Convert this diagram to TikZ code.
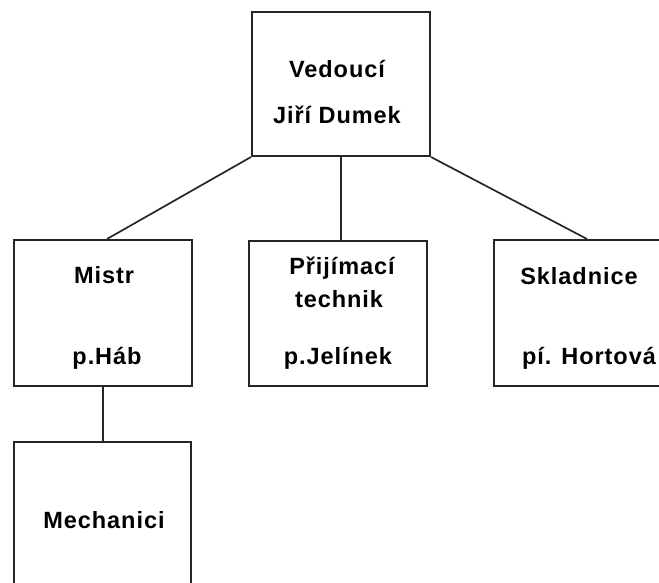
\documentclass[tikz,border=0pt]{standalone}
\usepackage{fontspec}
\setmainfont{Liberation Sans}[LetterSpace=4]
\begin{document}
\begin{tikzpicture}[x=1pt,y=-1pt,
  box/.style={draw=black!85,line width=2pt,rectangle,inner sep=0pt},
  lbl/.style={anchor=base,inner sep=0pt,font=\fontsize{23.5}{26}\selectfont\bfseries},
  link/.style={draw=black!85,line width=1.7pt}]
\clip (0,0) rectangle (659,582);
\useasboundingbox (0,0) rectangle (659,582);
% boxes
\node[box,minimum width=178pt,minimum height=144pt] (boss) at (341,84) {};
\node[box,minimum width=178pt,minimum height=146pt] (mistr) at (103,313) {};
\node[box,minimum width=178pt,minimum height=145pt] (prij) at (338,313.5) {};
\node[box,minimum width=178pt,minimum height=146pt] (sklad) at (583,313) {};
\node[box,minimum width=177pt,minimum height=200pt] (mech) at (102.5,542) {};
% texts
\node[lbl] (t1) at (337,77) {Vedoucí};
\node[lbl] (t2) at (337,123) {Jiří Dumek};
\node[lbl] (t3) at (104,283) {Mistr};
\node[lbl] (t4) at (107,364) {p.Háb};
\node[lbl] (t5) at (342,274) {Přijímací};
\node[lbl] (t6) at (339,307) {technik};
\node[lbl] (t7) at (338,364) {p.Jelínek};
\node[lbl] (t8) at (579,284) {Skladnice};
\node[lbl] (t9) at (589,364) {pí. Hortová};
\node[lbl] (t10) at (104,528) {Mechanici};
% connectors
\draw[link] (boss.south west) -- ([xshift=4pt]mistr.north);
\draw[link] (boss.south) -- (boss.south |- prij.north);
\draw[link] (boss.south east) -- ([xshift=4pt]sklad.north);
\draw[link] (mistr.south) -- (mistr.south |- mech.north);
\end{tikzpicture}
\end{document}
